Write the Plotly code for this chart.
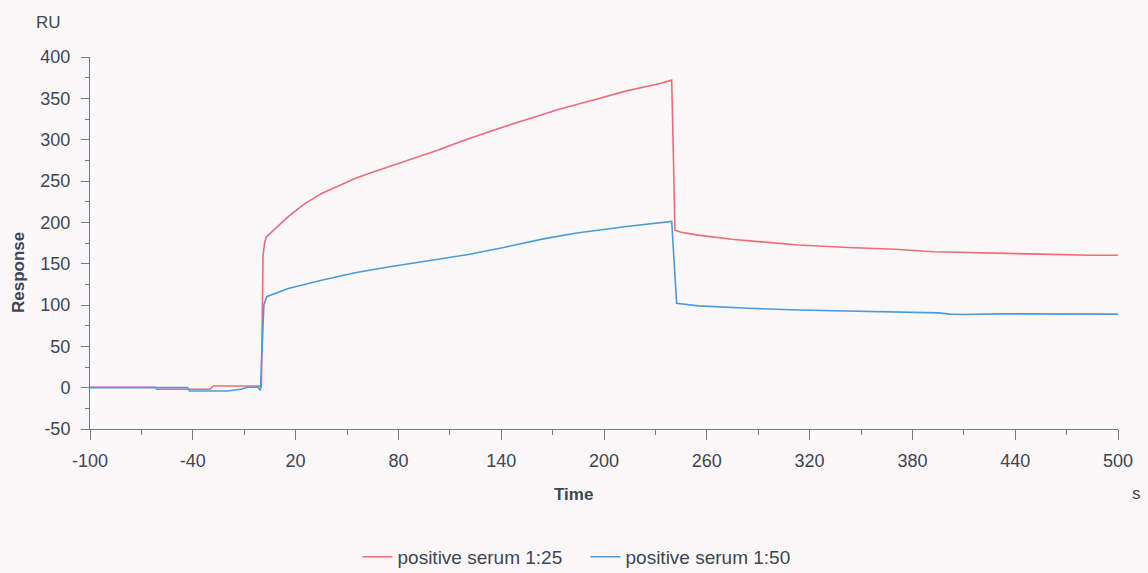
import plotly.graph_objects as go

# Sensorgram: time (s) and response (RU) for two serum dilutions
time_25 = [-100, -62, -61, -30, -28, -1, 0, 0.5, 1, 2, 3, 8, 15.7, 25, 35.2, 45,
           54.7, 64, 74.1, 84, 93.6, 103.3, 116, 135.4, 154.9, 174.3, 193.8,
           213.2, 232.7, 239.5, 240.5, 241.4, 245, 255, 274.5, 294, 313.4,
           342.6, 370, 392.2, 425.3, 454.5, 483.7, 500]
resp_25 = [0.5, 0.5, -2, -2, 2, 2, 1, 80, 160, 176, 182.5, 192, 207, 222, 235, 244,
           253, 260, 267, 274, 281, 287.5, 297.5, 311.5, 324.5, 337, 348,
           359, 368, 372, 280, 190.5, 188, 184.5, 179.5, 176, 172.5,
           169.5, 167.5, 164.5, 162.5, 161.5, 160.2, 160.2]

time_50 = [-100, -43, -42, -20, -12, -8, -2, -0.5, 0.5, 1.5, 3.1, 15.7, 35.2,
           54.7, 74.1, 93.6, 120.8, 140, 164.6, 184, 213.2, 239.5, 241, 242.4,
           255, 284.2, 313.4, 342.6, 370, 395, 402, 409.7, 431, 464, 500]
resp_50 = [0, 0, -4, -4, -2, 0.5, 0.5, -3, 50, 100, 110, 120, 130,
           139, 146, 152.5, 161, 169, 180, 187, 195, 201, 150, 102,
           99, 96, 94, 92.8, 91.5, 90.5, 89, 88.5, 89.3, 89.5, 89]

series_names = ["positive serum 1:25", "positive serum 1:50"]
series_colors = ["#f06a78", "#4a9ade"]

x_ticks = [-100, -40, 20, 80, 140, 200, 260, 320, 380, 440, 500]
y_ticks = [-50, 0, 50, 100, 150, 200, 250, 300, 350, 400]

FONT = "Liberation Sans, Arial, sans-serif"
TEXT = "#3c4654"
AXIS = "#6f7c8a"
BG = "#fcf8fa"

fig = go.Figure()
for t, r, name, col in [(time_25, resp_25, series_names[0], series_colors[0]),
                        (time_50, resp_50, series_names[1], series_colors[1])]:
    fig.add_trace(go.Scatter(x=t, y=r, mode="lines", name=name,
                             line=dict(color=col, width=1.6)))

fig.update_layout(
    width=1148, height=573,
    margin=dict(l=90, r=30, t=57, b=144, autoexpand=False),
    paper_bgcolor=BG, plot_bgcolor=BG,
    font=dict(family=FONT, size=18, color=TEXT),
    showlegend=True,
    legend=dict(orientation="h", x=0.482, xanchor="center", y=-0.344,
                yanchor="middle", bgcolor="rgba(0,0,0,0)",
                font=dict(size=19, color=TEXT), itemwidth=30,
                entrywidth=183, entrywidthmode="pixels",
                tracegroupgap=0),
    xaxis=dict(range=[-100, 500], tickvals=x_ticks, ticktext=[str(v) for v in x_ticks],
               showgrid=False, zeroline=False, showline=True, linecolor=AXIS,
               linewidth=1, ticks="outside", ticklen=10, tickcolor=AXIS,
               ticklabelstandoff=5,
               minor=dict(dtick=30, tick0=-100, ticks="outside", ticklen=5,
                          tickcolor=AXIS, showgrid=False),
               tickfont=dict(size=18, color=TEXT)),
    yaxis=dict(range=[-50, 400], tickvals=y_ticks, ticktext=[str(v) for v in y_ticks],
               showgrid=False, zeroline=False, showline=True, linecolor=AXIS,
               linewidth=1, ticks="outside", ticklen=8, tickcolor=AXIS,
               ticklabelstandoff=7,
               minor=dict(dtick=25, tick0=0, ticks="outside", ticklen=4,
                          tickcolor=AXIS, showgrid=False),
               tickfont=dict(size=18, color=TEXT)),
)

# axis titles and units
annots = [
    dict(text="RU", x=48, y=22, size=17, bold=False, angle=0),
    dict(text="s", x=1136, y=493, size=17, bold=False, angle=0),
    dict(text="Time", x=573, y=494, size=17, bold=True, angle=0),
    dict(text="Response", x=18, y=273, size=17, bold=True, angle=-90),
]
for a in annots:
    fig.add_annotation(
        text=f"<b>{a['text']}</b>" if a["bold"] else a["text"],
        xref="paper", yref="paper",
        x=(a["x"] - 90) / 1028, y=(429 - a["y"]) / 372,
        xanchor="center", yanchor="middle", showarrow=False,
        textangle=a["angle"], font=dict(family=FONT, size=a["size"], color=TEXT),
    )

fig.write_html("out.html")
